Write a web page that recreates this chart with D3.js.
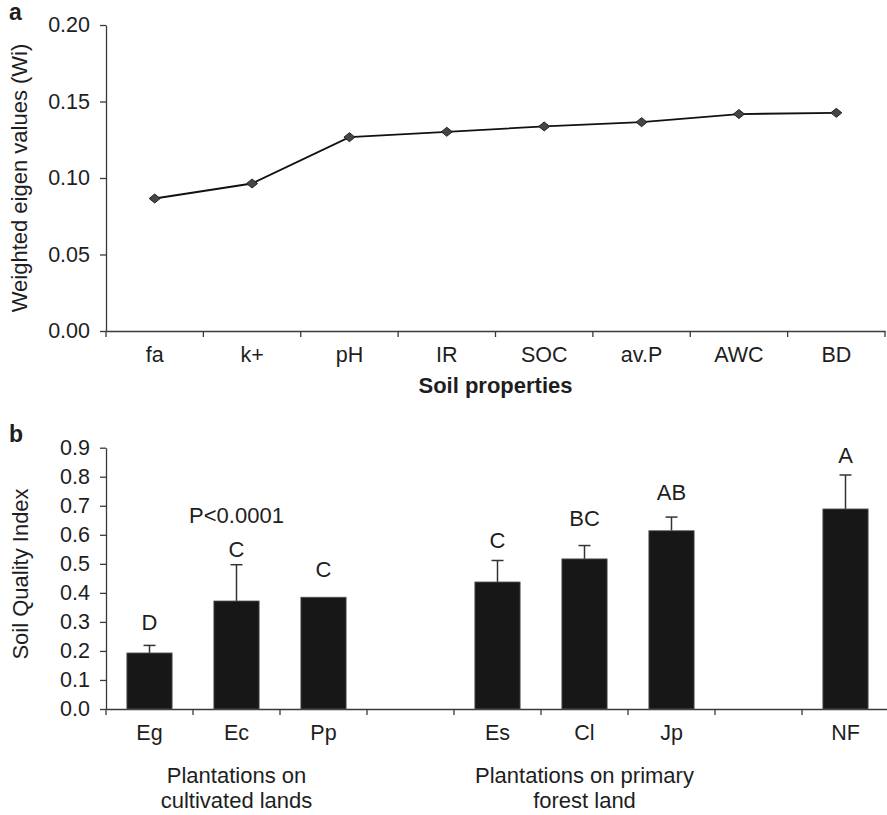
<!DOCTYPE html>
<html>
<head>
<meta charset="utf-8">
<script src="https://cdn.jsdelivr.net/npm/d3@7"></script>
<style>
  html, body { margin: 0; padding: 0; background: #fff; }
  svg { display: block; font-family: "Liberation Sans", Arial, sans-serif; }
</style>
</head>
<body>
<svg id="chart" width="887" height="815"></svg>
<script>
// ---------- Panel a data ----------
const propCategories = ["fa", "k+", "pH", "IR", "SOC", "av.P", "AWC", "BD"];
const eigenValues = [0.0866, 0.0964, 0.1267, 0.1302, 0.1337, 0.1365, 0.1418, 0.1426];
const eigenTicks = [0, 0.05, 0.10, 0.15, 0.20];

// ---------- Panel b data ----------
const siteCategories = ["Eg", "Ec", "Pp", "", "Es", "Cl", "Jp", "", "NF"];
const sqiValues = [0.193, 0.372, 0.385, null, 0.4375, 0.517, 0.614, null, 0.689];
const sqiErrors = [0.026, 0.125, 0, null, 0.074, 0.046, 0.047, null, 0.117];
const sigLetters = ["D", "C", "C", "", "C", "BC", "AB", "", "A"];
const sigLetterPos = [0.272, 0.525, 0.456, null, 0.553, 0.631, 0.72, null, 0.846];
const sqiTicks = [0, 0.1, 0.2, 0.3, 0.4, 0.5, 0.6, 0.7, 0.8, 0.9];
const groupLabels = [
  { at: 1, lines: ["Plantations on", "cultivated lands"] },
  { at: 5, lines: ["Plantations on primary", "forest land"] }
];
const pValueText = "P<0.0001";
const pValuePos = { at: 1, value: 0.64 };

const svg = d3.select("#chart");
const axisColor = "#3a3a3a";
const textColor = "#1e1e1e";
const FS = 22;
const TFS = 21.5;

// ================= Panel a =================
const xA = d3.scaleBand().domain(d3.range(propCategories.length)).range([106, 885]).padding(0);
const yA = d3.scaleLinear().domain([0, 0.20]).range([331, 25]);

const gA = svg.append("g");

const yAxisA = gA.append("g").attr("transform", `translate(${xA.range()[0]},0)`)
  .call(d3.axisLeft(yA).tickValues(eigenTicks).tickFormat(d3.format(".2f")).tickSize(6).tickSizeOuter(0).tickPadding(10));
const xAxisA = gA.append("g").attr("transform", `translate(0,${yA(0)})`)
  .call(d3.axisBottom(xA).tickFormat(i => propCategories[i]).tickSize(0).tickSizeOuter(0).tickPadding(16));
gA.append("g").selectAll("line")
  .data(d3.range(propCategories.length + 1))
  .join("line")
  .attr("x1", i => xA.range()[0] + i * xA.step())
  .attr("x2", i => xA.range()[0] + i * xA.step())
  .attr("y1", yA(0)).attr("y2", yA(0) + 6)
  .attr("stroke", axisColor).attr("stroke-width", 1.3);

[yAxisA, xAxisA].forEach(ax => {
  ax.select(".domain").attr("stroke", axisColor).attr("stroke-width", 1.3);
  ax.selectAll(".tick line").attr("stroke", axisColor).attr("stroke-width", 1.3);
  ax.selectAll(".tick text").attr("fill", textColor).style("font-size", TFS + "px");
});

const lineA = d3.line()
  .x((d, i) => xA(i) + xA.bandwidth() / 2)
  .y(d => yA(d));
gA.append("path").datum(eigenValues)
  .attr("d", lineA).attr("fill", "none").attr("stroke", "#111").attr("stroke-width", 1.8);
gA.append("g").selectAll("path")
  .data(eigenValues)
  .join("path")
  .attr("transform", (d, i) => `translate(${xA(i) + xA.bandwidth() / 2},${yA(d)})`)
  .attr("d", "M0,-4.5L5.5,0L0,4.5L-5.5,0Z")
  .attr("fill", "#454545").attr("stroke", "#222").attr("stroke-width", 1);

gA.append("text")
  .attr("transform", `translate(27,${(yA(0) + yA(0.2)) / 2}) rotate(-90)`)
  .attr("text-anchor", "middle").attr("fill", textColor).style("font-size", FS + "px")
  .text("Weighted eigen values (Wi)");
gA.append("text")
  .attr("x", (xA.range()[0] + xA.range()[1]) / 2).attr("y", 393)
  .attr("text-anchor", "middle").attr("fill", textColor).style("font-size", FS + "px").style("font-weight", "bold")
  .text("Soil properties");
svg.append("text").attr("x", 9).attr("y", 20).attr("fill", textColor)
  .style("font-size", "23px").style("font-weight", "bold").text("a");

// ================= Panel b =================
const xB = d3.scaleBand().domain(d3.range(siteCategories.length)).range([106, 889])
  .paddingInner(0.48).paddingOuter(0.24);
const yB = d3.scaleLinear().domain([0, 0.9]).range([709, 447.7]);
const gB = svg.append("g");

const yAxisB = gB.append("g").attr("transform", `translate(${xB.range()[0]},0)`)
  .call(d3.axisLeft(yB).tickValues(sqiTicks).tickFormat(d3.format(".1f")).tickSize(6).tickSizeOuter(0).tickPadding(10));
const xAxisB = gB.append("g").attr("transform", `translate(0,${yB(0)})`)
  .call(d3.axisBottom(xB).tickFormat(i => siteCategories[i]).tickSize(0).tickSizeOuter(0).tickPadding(16));
gB.append("g").selectAll("line")
  .data(d3.range(siteCategories.length + 1))
  .join("line")
  .attr("x1", i => xB.range()[0] + i * xB.step())
  .attr("x2", i => xB.range()[0] + i * xB.step())
  .attr("y1", yB(0)).attr("y2", yB(0) + 6)
  .attr("stroke", axisColor).attr("stroke-width", 1.3);

[yAxisB, xAxisB].forEach(ax => {
  ax.select(".domain").attr("stroke", axisColor).attr("stroke-width", 1.3);
  ax.selectAll(".tick line").attr("stroke", axisColor).attr("stroke-width", 1.3);
  ax.selectAll(".tick text").attr("fill", textColor).style("font-size", TFS + "px");
});

const barData = sqiValues.map((v, i) => ({ i, v, e: sqiErrors[i], L: sigLetters[i], lp: sigLetterPos[i] }))
  .filter(d => d.v !== null);

const eb = gB.append("g").selectAll("g").data(barData.filter(d => d.e > 0)).join("g");
eb.append("line")
  .attr("x1", d => xB(d.i) + xB.bandwidth() / 2).attr("x2", d => xB(d.i) + xB.bandwidth() / 2)
  .attr("y1", d => yB(d.v)).attr("y2", d => yB(d.v + d.e))
  .attr("stroke", "#333").attr("stroke-width", 1.5);
eb.append("line")
  .attr("x1", d => xB(d.i) + xB.bandwidth() / 2 - 6).attr("x2", d => xB(d.i) + xB.bandwidth() / 2 + 6)
  .attr("y1", d => yB(d.v + d.e)).attr("y2", d => yB(d.v + d.e))
  .attr("stroke", "#333").attr("stroke-width", 1.5);

gB.append("g").selectAll("rect").data(barData).join("rect")
  .attr("x", d => xB(d.i)).attr("width", xB.bandwidth())
  .attr("y", d => yB(d.v)).attr("height", d => yB(0) - yB(d.v))
  .attr("fill", "#171717").attr("stroke", "#5a5a5a").attr("stroke-width", 0.8);

gB.append("g").selectAll("text").data(barData).join("text")
  .attr("x", d => xB(d.i) + xB.bandwidth() / 2).attr("y", d => yB(d.lp))
  .attr("text-anchor", "middle").attr("fill", textColor).style("font-size", FS + "px")
  .text(d => d.L);

gB.append("text")
  .attr("x", xB(pValuePos.at) + xB.bandwidth() / 2).attr("y", yB(pValuePos.value))
  .attr("text-anchor", "middle").attr("fill", textColor).style("font-size", FS + "px")
  .text(pValueText);

const grp = gB.append("g").selectAll("text").data(groupLabels).join("text")
  .attr("text-anchor", "middle").attr("fill", textColor).style("font-size", FS + "px");
grp.selectAll("tspan").data(d => d.lines.map((t, k) => ({ t, k, at: d.at }))).join("tspan")
  .attr("x", d => xB(d.at) + xB.bandwidth() / 2)
  .attr("y", d => 783 + d.k * 25)
  .text(d => d.t);

gB.append("text")
  .attr("transform", `translate(28,574) rotate(-90)`)
  .attr("text-anchor", "middle").attr("fill", textColor).style("font-size", FS + "px")
  .text("Soil Quality Index");
svg.append("text").attr("x", 9).attr("y", 442).attr("fill", textColor)
  .style("font-size", "23px").style("font-weight", "bold").text("b");
</script>
</body>
</html>
